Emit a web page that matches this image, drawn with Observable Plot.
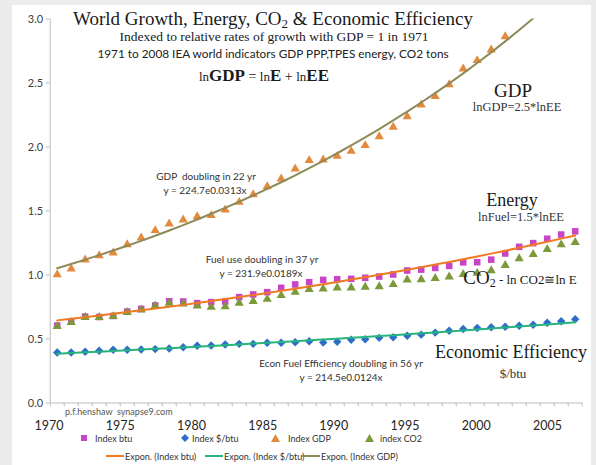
<!DOCTYPE html>
<html><head><meta charset="utf-8">
<script src="https://cdn.jsdelivr.net/npm/d3@7"></script>
<script src="https://cdn.jsdelivr.net/npm/@observablehq/plot@0.6"></script>
<style>
html,body{margin:0;padding:0;background:#ececec;}
#wrap{position:relative;width:596px;height:465px;overflow:hidden;background:#ececec;}
#card{position:absolute;left:12px;top:5px;width:579px;height:460px;background:#fff;}
#wrap svg.plot{position:absolute;left:0;top:0;overflow:visible;background:transparent;}
.t{position:absolute;white-space:nowrap;transform:translate(-50%,-50%);line-height:1;}
.l{position:absolute;white-space:nowrap;transform:translate(0,-50%);line-height:1;}
.serif{font-family:"Liberation Serif",serif;color:#1a1a1a;}
.sans{font-family:Lato,sans-serif;color:#333;}
</style></head><body>
<div id="wrap"><div id="card"></div></div>
<script>
// ---- data ----
const years = [1971,1972,1973,1974,1975,1976,1977,1978,1979,1980,1981,1982,1983,1984,1985,1986,1987,1988,1989,1990,1991,1992,1993,1994,1995,1996,1997,1998,1999,2000,2001,2002,2003,2004,2005,2006,2007,2008];
const indexBtu = [0.605,0.638,0.675,0.672,0.680,0.714,0.735,0.762,0.795,0.793,0.780,0.788,0.793,0.827,0.848,0.866,0.900,0.926,0.944,0.962,0.967,0.970,0.978,0.988,1.004,1.035,1.042,1.055,1.071,1.099,1.100,1.120,1.168,1.220,1.249,1.283,1.316,1.341];
const indexDollarPerBtu = [0.395,0.395,0.400,0.408,0.416,0.416,0.418,0.421,0.426,0.436,0.447,0.449,0.457,0.462,0.462,0.470,0.470,0.475,0.483,0.472,0.479,0.494,0.498,0.509,0.514,0.525,0.534,0.550,0.564,0.578,0.586,0.592,0.596,0.603,0.611,0.627,0.638,0.654];
// GDP above 3.0 (2004-2008) lies outside the plotted range and is not visible
const indexGDP = [1.004,1.048,1.119,1.152,1.173,1.238,1.291,1.348,1.400,1.431,1.457,1.465,1.509,1.569,1.629,1.691,1.752,1.830,1.895,1.900,1.928,1.967,2.012,2.082,2.155,2.238,2.330,2.395,2.488,2.611,2.676,2.759,2.863];
const indexCO2 = [0.598,0.631,0.670,0.670,0.676,0.709,0.728,0.759,0.780,0.775,0.759,0.749,0.754,0.780,0.795,0.811,0.840,0.866,0.888,0.892,0.900,0.900,0.905,0.910,0.926,0.962,0.964,0.974,0.986,1.006,1.014,1.035,1.076,1.128,1.162,1.200,1.237,1.256];
const yTicks = [0,0.5,1.0,1.5,2.0,2.5,3.0];
const yearLabels = [1970,1975,1980,1985,1990,1995,2000,2005];
const seriesNames = ["Index btu","Index $/btu","Index GDP","index CO2"];
const trendNames = ["Expon. (Index btu)","Expon. (Index $/btu)","Expon. (Index GDP)"];

// ---- colours ----
const cBtu = "#c845c8", cEff = "#2f6ec8", cGDP = "#e38a3c", cCO2 = "#7d9a3a";
const tBtu = "#ef7a22", tEff = "#27b57e", tGDP = "#8f8a57";

// exponential least-squares fit (as Excel's Expon. trendline)
function expFit(xs, ys) {
  const pts = xs.map((x, i) => [x - xs[0], ys[i]]).filter(d => d[1] != null);
  const mx = d3.mean(pts, d => d[0]), my = d3.mean(pts, d => Math.log(d[1]));
  const b = d3.sum(pts, d => (d[0] - mx) * (Math.log(d[1]) - my)) / d3.sum(pts, d => (d[0] - mx) ** 2);
  const a = my - b * mx;
  return x => Math.exp(a + b * (x - xs[0]));
}
const fBtu = expFit(years, indexBtu), fEff = expFit(years, indexDollarPerBtu), fGDP = expFit(years.slice(0, indexGDP.length), indexGDP);

const rows = years.map((year, i) => ({year, btu: indexBtu[i], eff: indexDollarPerBtu[i], co2: indexCO2[i]}));
const gdpRows = indexGDP.map((v, i) => ({year: years[i], gdp: v}));
const trend = years.map(year => ({year, btu: fBtu(year), eff: fEff(year), gdp: fGDP(year)}));
const xDomain = [years[0] - 0.5, years[years.length - 1] + 0.5];
const boundaries = years.map(y => y - 0.5).concat([xDomain[1]]);

const chart = Plot.plot({
  width: 596, height: 425,
  marginLeft: 49.7, marginRight: 14.3, marginTop: 18.5, marginBottom: 22.5,
  style: {fontFamily: "Lato, sans-serif", fontSize: "11px", background: "transparent", overflow: "visible"},
  x: {domain: xDomain},
  y: {domain: [0, 3]},
  marks: [
    Plot.ruleY([0], {stroke: "#bdbdbd"}),
    Plot.ruleX([xDomain[0]], {stroke: "#bdbdbd"}),
    Plot.axisX({ticks: boundaries, tickFormat: () => "", tickSize: 4, stroke: "#bdbdbd", label: null}),
    Plot.axisY({ticks: yTicks, tickFormat: d3.format(".1f"), tickSize: 4, tickPadding: 3, stroke: "#bdbdbd", fill: "#404040", fontSize: 11, label: null}),
    Plot.dot(rows, {x: "year", y: "btu", symbol: "square", r: 3.7, fill: cBtu}),
    Plot.dot(rows, {x: "year", y: "eff", symbol: "diamond2", r: 3.8, fill: cEff}),
    Plot.dot(gdpRows, {x: "year", y: "gdp", symbol: "triangle", r: 3.4, fill: cGDP}),
    Plot.dot(rows, {x: "year", y: "co2", symbol: "triangle", r: 3.4, fill: cCO2}),
    Plot.line(trend, {x: "year", y: "btu", stroke: tBtu, strokeWidth: 2}),
    Plot.line(trend, {x: "year", y: "eff", stroke: tEff, strokeWidth: 2}),
    Plot.line(trend, {x: "year", y: "gdp", stroke: tGDP, strokeWidth: 2, clip: true})
  ]
});
chart.classList.add("plot");
const wrap = document.getElementById("wrap");
wrap.appendChild(chart);

// year label row (a separate text row under the axis, as in the original)
const yearRow = Plot.plot({
  width: 596, height: 20, margin: 0,
  style: {fontFamily: "Lato, sans-serif", background: "transparent", overflow: "visible"},
  x: {domain: [yearLabels[0], yearLabels[yearLabels.length - 1]], range: [48.5, 547], axis: null},
  marks: [Plot.text(yearLabels, {x: d => d, frameAnchor: "middle", text: d => String(d), fontSize: 12.5, fill: "#262626"})]
});
yearRow.classList.add("plot");
yearRow.style.top = "415px";
wrap.appendChild(yearRow);

// ---- text boxes ----
function box(html, cls, x, y, style = "") {
  const d = document.createElement("div");
  d.className = cls;
  d.style.cssText = `left:${x}px;top:${y}px;${style}`;
  d.innerHTML = html;
  wrap.appendChild(d);
}
box("World Growth, Energy, CO<sub style='font-size:13px;vertical-align:-3px'>2</sub> &amp; Economic Efficiency", "t serif", 273, 19, "font-size:19px;");
box("Indexed to relative rates of growth with GDP = 1 in 1971", "t serif", 274, 37, "font-size:13.5px;");
box("1971 to 2008 IEA world indicators GDP PPP,TPES energy, CO2 tons", "t sans", 273, 54, "font-size:11.8px;color:#222;");
box("<span style='font-size:13px'>ln</span><b style='font-size:17px'>GDP</b> = <span style='font-size:13px'>ln</span><b style='font-size:17px'>E</b> + <span style='font-size:13px'>ln</span><b style='font-size:17px'>EE</b>", "t serif", 264, 75, "font-size:14px;");

box("GDP", "t serif", 513, 90, "font-size:19px;");
box("lnGDP=2.5*lnEE", "t serif", 517, 107, "font-size:12.5px;color:#333;");
box("Energy", "t serif", 512, 200, "font-size:18px;");
box("lnFuel=1.5*lnEE", "t serif", 521, 217, "font-size:12.5px;color:#333;");
box("CO<sub style='font-size:12px;vertical-align:-3px'>2</sub><span style='font-size:13px'> - ln CO2≅ln E</span>", "t serif", 520, 278, "font-size:19px;");
box("Economic Efficiency", "t serif", 511, 352, "font-size:18px;");
box("$/btu", "t serif", 513, 373, "font-size:13px;color:#333;");

box("GDP&nbsp; doubling in 22 yr", "t sans", 206, 176, "font-size:10px;");
box("y = 224.7e0.0313x", "t sans", 205, 190, "font-size:10px;");
box("Fuel use doubling in 37 yr", "t sans", 262, 259, "font-size:10px;");
box("y = 231.9e0.0189x", "t sans", 261, 273, "font-size:10px;");
box("Econ Fuel Efficiency doubling in 56 yr", "t sans", 341, 363, "font-size:10px;");
box("y = 214.5e0.0124x", "t sans", 341, 377, "font-size:10px;");
box("p.f.henshaw&nbsp; synapse9.com", "l sans", 65, 411, "font-size:9px;color:#555;");

// ---- legend ----
const sym = {
  square: c => `<svg width="8" height="8" style="position:static"><rect x="1" y="1" width="6" height="6" fill="${c}"/></svg>`,
  diamond: c => `<svg width="8" height="8" style="position:static"><path d="M4,0L8,4L4,8L0,4Z" fill="${c}"/></svg>`,
  triangle: c => `<svg width="9" height="8" style="position:static"><path d="M4.5,0L9,8L0,8Z" fill="${c}"/></svg>`,
  line: c => `<svg width="18" height="4" style="position:static"><line x1="0" x2="18" y1="2" y2="2" stroke="${c}" stroke-width="2"/></svg>`
};
const leg1 = [[sym.square(cBtu), 80, 95], [sym.diamond(cEff), 181, 192], [sym.triangle(cGDP), 271, 288], [sym.triangle(cCO2), 365, 380]];
leg1.forEach(([s, xs, xt], i) => {
  box(s, "l", xs, 438, "display:flex;");
  box(seriesNames[i], "l sans", xt, 438, "font-size:9px;");
});
const leg2 = [[sym.line(tBtu), 106, 125], [sym.line(tEff), 205, 224], [sym.line(tGDP), 302, 321]];
leg2.forEach(([s, xs, xt], i) => {
  box(s, "l", xs, 456, "display:flex;");
  box(trendNames[i], "l sans", xt, 456, "font-size:9px;");
});
</script>
</body></html>
